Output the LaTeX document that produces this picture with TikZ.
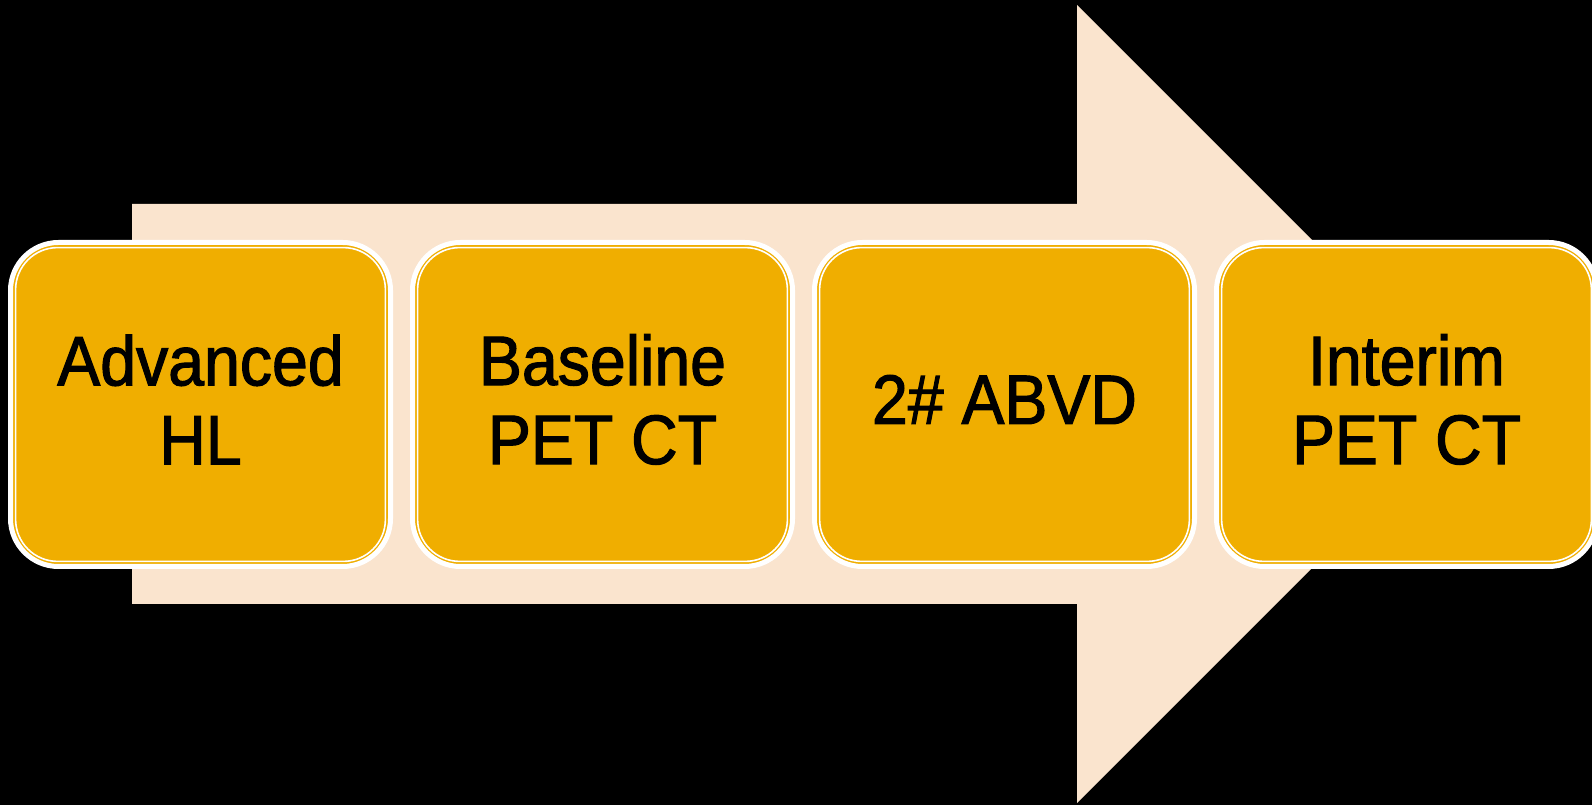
\documentclass[tikz,border=0pt]{standalone}
\usepackage{fontspec}
\setmainfont{Liberation Sans}[FakeStretch=0.92,FakeBold=1.6]
\definecolor{peach}{RGB}{250,228,206}
\definecolor{gold}{RGB}{240,174,0}
\begin{document}
\begin{tikzpicture}[x=1pt,y=1pt,
  stagebox/.style={rectangle, rounded corners=48pt, draw=white, line width=5pt, fill=gold,
    minimum width=380pt, minimum height=324pt, inner sep=0pt},
  stagetext/.style={align=center, inner sep=0pt, yshift=5pt,
    font=\fontsize{70}{79}\selectfont, text=black},
  innerline/.style={draw=white, line width=1.6pt, rounded corners=42pt}]
\useasboundingbox (0,0) rectangle (1592,805);
\fill[black] (0,0) rectangle (1592,805);
\begin{scope}
\clip (0,0) rectangle (1592,805);
\fill[peach] (132,601) -- (1077,601) -- (1077,800) -- (1476,401) -- (1077,2) -- (1077,201) -- (132,201) -- cycle;
\foreach \n/\x/\t in {b1/200.5/{Advanced\\HL}, b2/602.5/{Baseline\\PET CT}, b3/1004.5/{2\# ABVD}, b4/1406.5/{Interim\\PET CT}}{
  \node[stagebox, label={[stagetext]center:{\t}}] (\n) at (\x,400.5) {};
  \draw[innerline] ([xshift=7.6pt,yshift=-7.6pt]\n.north west) rectangle ([xshift=-7.6pt,yshift=7.6pt]\n.south east);
}
\end{scope}
\end{tikzpicture}
\end{document}
